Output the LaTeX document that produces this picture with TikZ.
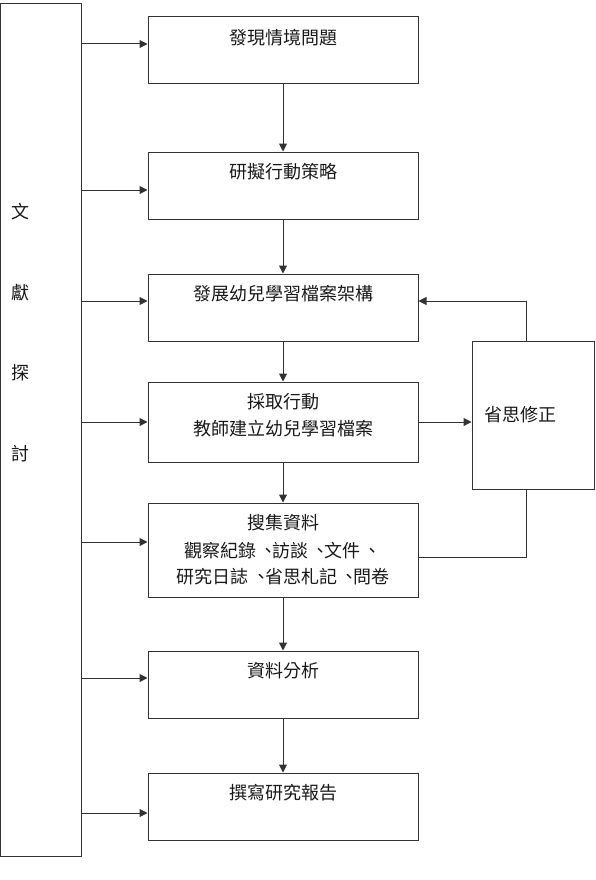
\documentclass[tikz,border=0pt]{standalone}
\usepackage{fontspec}
\setmainfont{Noto Sans CJK TC}
\usetikzlibrary{arrows.meta}
\newcommand{\dun}{\hspace{0.2em}、\hspace{-0.3em}}
\begin{document}
\begin{tikzpicture}[x=1pt,y=-1pt,
  box/.style={draw=black!80, line width=1pt, rectangle, inner sep=0pt, minimum width=270pt},
  lbl/.style={anchor=base, inner sep=0pt, font=\fontsize{18}{27}\selectfont, text=black!90},
  conn/.style={draw=black!80, line width=1pt},
  arr/.style={conn, -{Triangle[length=8pt,width=8pt]}}]
\useasboundingbox (0,0) rectangle (595,880);
% left tall box
\node[draw=black!80, line width=1pt, rectangle, inner sep=0pt, minimum width=80.5pt, minimum height=852.5pt] (lit) at (40.75,429.75) {};
\node[lbl] (l1) at (21,218.8) {文};
\node[lbl] (l2) at (21,299.8) {獻};
\node[lbl] (l3) at (21,379.8) {探};
\node[lbl] (l4) at (21,460.8) {討};
% main boxes
\node[box, minimum height=67pt] (b1) at (283,50.5) {};
\node[box, minimum height=67pt] (b2) at (283,185.5) {};
\node[box, minimum height=67pt] (b3) at (283,307.5) {};
\node[box, minimum height=80pt] (b4) at (283,422) {};
\node[box, minimum height=94pt] (b5) at (283,550) {};
\node[box, minimum height=67pt] (b6) at (283,684.5) {};
\node[box, minimum height=67pt] (b7) at (283,806.5) {};
% right box
\node[draw=black!80, line width=1pt, rectangle, inner sep=0pt, minimum width=122pt, minimum height=148pt] (r) at (533,415) {};
% texts
\node[lbl] (t1) at (283,44.3) {發現情境問題};
\node[lbl] (t2) at (283,178.8) {研擬行動策略};
\node[lbl] (t3) at (283,300.8) {發展幼兒學習檔案架構};
\node[lbl] (t4a) at (283,408.3) {採取行動};
\node[lbl] (t4b) at (283,435.8) {教師建立幼兒學習檔案};
\node[lbl] (t5a) at (283,529.8) {搜集資料};
\node[lbl] (t5b) at (283,557.3) {觀察紀錄\dun 訪談\dun 文件\hspace{0.2em}、};
\node[lbl] (t5c) at (283,583.3) {研究日誌\dun 省思札記\dun 問卷};
\node[lbl] (t6) at (283,677.8) {資料分析};
\node[lbl] (t7) at (283,799.3) {撰寫研究報告};
\node[lbl, anchor=base west] (tr) at (484,421.3) {省思修正};
% arrows from literature box
\draw[arr] (lit.east |- 0,44) -- (b1.west |- 0,44);
\draw[arr] (lit.east |- 0,190) -- (b2.west |- 0,190);
\draw[arr] (lit.east |- 0,301) -- (b3.west |- 0,301);
\draw[arr] (lit.east |- 0,422) -- (b4.west |- 0,422);
\draw[arr] (lit.east |- 0,542) -- (b5.west |- 0,542);
\draw[arr] (lit.east |- 0,678) -- (b6.west |- 0,678);
\draw[arr] (lit.east |- 0,813) -- (b7.west |- 0,813);
% vertical chain
\draw[arr] (b1.south) -- (b2.north);
\draw[arr] (b2.south) -- (b3.north);
\draw[arr] (b3.south) -- (b4.north);
\draw[arr] (b4.south) -- (b5.north);
\draw[arr] (b5.south) -- (b6.north);
\draw[arr] (b6.south) -- (b7.north);
% feedback loop
\coordinate (fbtop) at (526,301);
\draw[arr] (b4.east) -- (r.west |- b4.east);
\draw[conn] (b5.east |- 0,557) -| (r.south -| fbtop);
\draw[arr] (r.north -| fbtop) -- (fbtop) -- (b3.east |- fbtop);
\end{tikzpicture}
\end{document}
